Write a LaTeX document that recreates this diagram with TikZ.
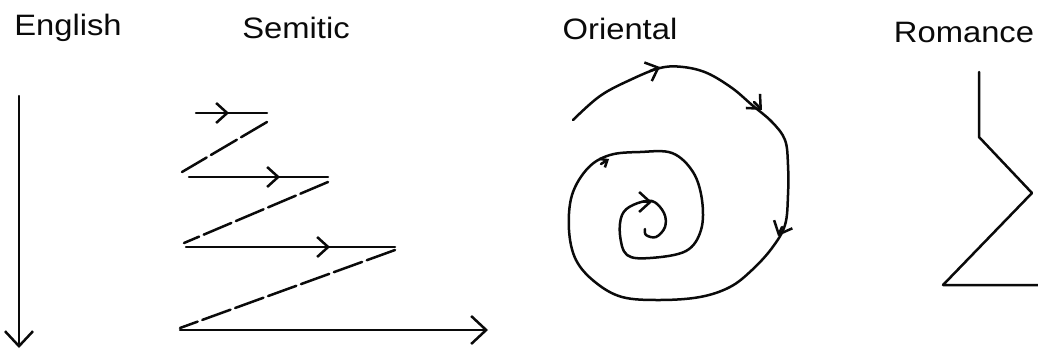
\documentclass[tikz,border=0pt]{standalone}
\usepackage{xcolor}
\usepackage{fontspec}
\setmainfont{Liberation Sans}
\usepackage{tikz}
\usetikzlibrary{arrows.meta}
\definecolor{ink}{RGB}{10,10,10}
\tikzset{
  heading/.style={font=\fontsize{29.5}{31}\selectfont, anchor=base,
    xscale=1.11, inner sep=0pt, text=ink},
  stroke/.style={draw=ink, line width=2.5pt, line cap=round, line join=round},
  dashstroke/.style={stroke, dash pattern=on 30pt off 5pt},
  arrow/.style={stroke, -{Straight Barb[length=15pt, width=28pt]}},
  midtip/.style={stroke, -{Straight Barb[length=11pt, width=20pt]}},
  tinytip/.style={stroke, -{Straight Barb[length=6pt, width=10pt]}}
}

\begin{document}
\begin{tikzpicture}[x=1pt, y=-1pt]
  \useasboundingbox (0,0) rectangle (1038,351);

  % headings
  \node[heading] (english) at (68,35) {English};
  \node[heading] (semitic) at (296,38) {Semitic};
  \node[heading] (oriental) at (620,39) {Oriental};
  \node[heading] (romance) at (964,42) {Romance};

  % English: straight down
  \coordinate (en top) at (19,96);
  \coordinate (en end) at (19,348);
  \draw[arrow] (en top) -- (en end);

  % Semitic: zigzag
  \coordinate (s1) at (196,113); \coordinate (s1r) at (267,113);
  \coordinate (s2) at (189,177); \coordinate (s2r) at (328,177);
  \coordinate (s3) at (186,247); \coordinate (s3r) at (395,247);
  \coordinate (s4) at (180,330); \coordinate (s4r) at (488,330);
  \draw[stroke] (s1) -- (s1r);
  \draw[midtip] (220,113) -- (229,113);
  \draw[dashstroke] (267,122) -- (182,172);
  \draw[stroke] (s2) -- (s2r);
  \draw[midtip] (270,177) -- (280,177);
  \draw[dashstroke] (328,182) -- (184,243);
  \draw[stroke] (s3) -- (s3r);
  \draw[midtip] (320,247) -- (330,247);
  \draw[dashstroke] (395,250) -- (180,328);
  \draw[arrow] (s4) -- (s4r);

  % Oriental: spiral
  \draw[stroke] plot[smooth, tension=0.6] coordinates {
    (573,120) (600,96) (630,80) (660,68) (683,67) (707,73) (732,88)
    (752,105) (772,122) (785,140) (788,165) (788,195) (785,225)
    (772,248) (752,270) (730,287) (700,297) (660,300) (622,297)
    (595,282) (576,260) (569,230) (572,195) (588,168) (610,155)
    (640,152) (672,153) (693,172) (702,200) (701,230) (686,251)
    (650,258) (627,255) (620,235) (622,215) (633,205) (652,201)
    (664,213) (665,227) (656,237) (646,235) (645,229)};
  \draw[midtip] (650,71) -- (660,67);
  \draw[midtip] (754,102) -- (762,110);
  \draw[midtip] (782,227) -- (778,236);
  \draw[tinytip] (601,164) -- (609,159);
  \draw[midtip] (642,202) -- (652,202);

  % Romance
  \coordinate (ro top) at (979,72);
  \coordinate (ro end) at (1038,285);
  \draw[stroke] (ro top) -- (979,137) -- (1032,193) -- (943,285) -- (ro end);
\end{tikzpicture}
\end{document}
